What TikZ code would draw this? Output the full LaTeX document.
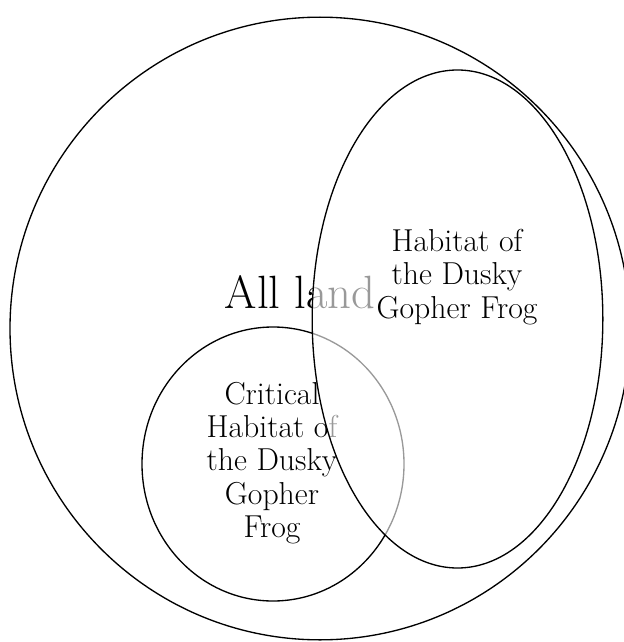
\documentclass[tikz,border=0pt]{standalone}
\usetikzlibrary{shapes.geometric}
\tikzset{
  venn/.style={ellipse,draw,line width=1pt,inner sep=0pt},
  vennlabel/.style={align=center,inner sep=0pt,font=\fontsize{23.8}{25}\selectfont},
  vennbig/.style={inner sep=0pt,font=\fontsize{35}{40}\selectfont}
}
\begin{document}
\begin{tikzpicture}[x=0.75pt,y=-0.75pt]
  \useasboundingbox (0,0) rectangle (624,642);
  % regions
  \node[venn,minimum width=465pt,minimum height=467pt] (land) at (320,328.5) {};
  \node[venn,minimum width=196.5pt,minimum height=205.5pt] (critical) at (273,464) {};
  \node[vennbig] (landtext) at (300,292) {All land};
  \node[vennlabel] (criticaltext) at (272,463)
    {Critical\\Habitat of\\the Dusky\\Gopher\\Frog};
  % the habitat lies on top, half see-through
  \node[venn,fill=white,fill opacity=0.6,minimum width=218pt,minimum height=373.5pt]
    (habitat) at (457.5,319) {};
  \node[vennlabel] (habitattext) at (457,277)
    {Habitat of\\the Dusky\\Gopher Frog};
\end{tikzpicture}
\end{document}
